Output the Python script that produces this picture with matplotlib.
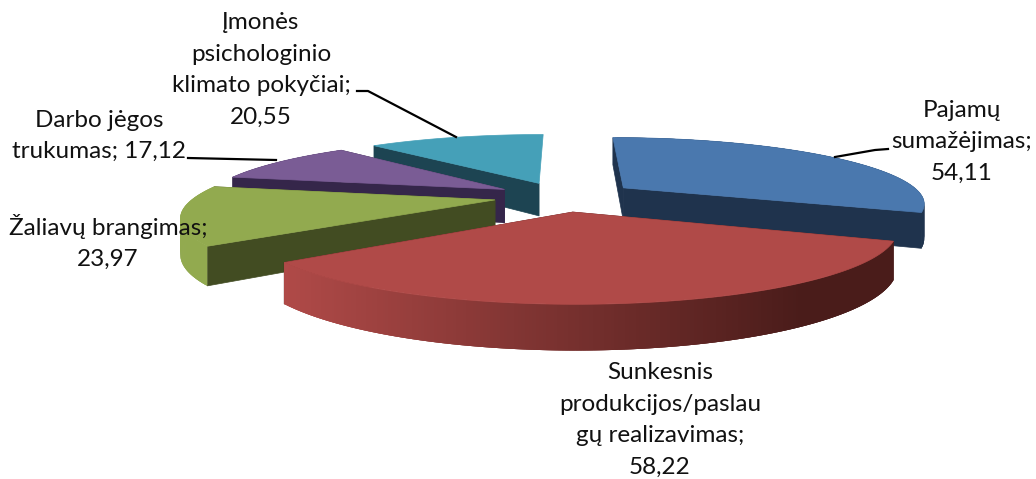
import numpy as np
from matplotlib import pyplot as plt
from matplotlib.colors import to_rgb

# clockwise from 12 o'clock
categories = ["Pajamų\nsumažėjimas", "Sunkesnis\nprodukcijos/paslau\ngų realizavimas",
              "Žaliavų brangimas", "Darbo jėgos\ntrukumas", "Įmonės\npsichologinio\nklimato pokyčiai"]
values = [54.11, 58.22, 23.97, 17.12, 20.55]
separators = [";\n", ";\n", ";\n", "; ", ";\n"]

top_colors = ["#4a78ae", "#b04a48", "#92aa4f", "#7a5c95", "#45a0b8"]
face_colors = ["#1f334d", "#4a1c1a", "#424c22", "#35264a", "#1d4452"]
wall_left = ["#1f334d", "#b04a48", "#92aa4f", "#35264a", "#1d4452"]
wall_right = ["#1f334d", "#4a1c1a", "#92aa4f", "#35264a", "#1d4452"]

label_pos = [(962, 142), (660, 420), (108, 242), (99, 136), (261, 70)]
leaders = [[(888, 149), (875, 150), (835, 157)],
           [],
           [],
           [(188, 158), (276, 160)],
           [(357, 91), (368, 91), (456, 137)]]

# projection of the pie, pixels
cx, cy = 563, 196.6
fx, fy = 300, 64.5
persp = 0.2155
explode = [0.25, 0.23, 0.23, 0.23, 0.23]
depth = 34


def project(X, Y, z=0):
    s = 1 / (1 + persp * Y)
    return cx + fx * X * s, cy - fy * Y * s + depth * z * s


plt.rcParams['font.family'] = ['Lato', 'DejaVu Sans']
fig = plt.figure(figsize=(10.36, 4.79), dpi=100)
ax = fig.add_axes([0, 0, 1, 1])
ax.set_xlim(0, 1036)
ax.set_ylim(479, 0)
ax.axis("off")

vals = np.array(values)
edges = np.concatenate([[0], np.cumsum(vals) / vals.sum() * 2 * np.pi])

# back slices first
for i in [4, 3, 0, 2, 1]:
    t = np.linspace(edges[i], edges[i + 1], 240)
    mid = (edges[i] + edges[i + 1]) / 2
    ox, oy = explode[i] * np.sin(mid), explode[i] * np.cos(mid)
    rx, ry = ox + np.sin(t), oy + np.cos(t)

    # cut faces
    for k in [0, -1]:
        if i == 4 and k == -1:
            continue
        x0, y0 = project(ox, oy)
        x1, y1 = project(rx[k], ry[k])
        x2, y2 = project(rx[k], ry[k], 1)
        x3, y3 = project(ox, oy, 1)
        ax.fill([x0, x1, x2, x3], [y0, y1, y2, y3], color=face_colors[i], lw=0.5)

    # outer wall, the teal one is all behind
    xt, yt = project(rx, ry)
    xb, yb = project(rx, ry, 1)
    left, right = np.array(to_rgb(wall_left[i])), np.array(to_rgb(wall_right[i]))
    if i != 4:
        for j in range(len(t) - 1):
            f = (xt[j] - xt.min()) / (xt.max() - xt.min())
            f = min(f / 0.85, 1)
            n = min(j + 3, len(t) - 1)
            ax.fill([xt[j], xt[n], xb[n], xb[j]], [yt[j], yt[n], yb[n], yb[j]],
                    color=left + (right - left) * f, lw=0)

    # top
    x0, y0 = project(ox, oy)
    ax.fill(np.r_[x0, xt], np.r_[y0, yt], color=top_colors[i], lw=0.5)

for line in leaders:
    if line:
        ax.plot([p[0] for p in line], [p[1] for p in line], color="black", lw=1.6)

for i in range(len(categories)):
    s = categories[i] + separators[i] + "{:.2f}".format(values[i]).replace(".", ",")
    ax.text(label_pos[i][0], label_pos[i][1], s, ha="center", va="center",
            fontsize=17.5, linespacing=1.62, color="#111111")

fig.savefig("out.png", dpi=100)
